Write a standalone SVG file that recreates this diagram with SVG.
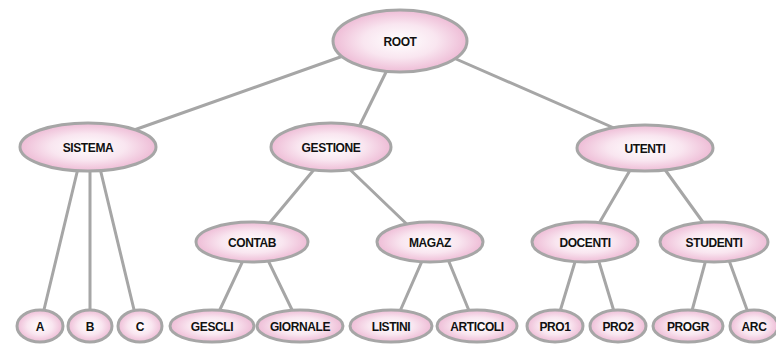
<svg xmlns="http://www.w3.org/2000/svg" width="776" height="344" viewBox="0 0 776 344">
<defs>
<radialGradient id="pink" cx="50%" cy="50%" r="50%">
<stop offset="0" stop-color="#ffffff"/>
<stop offset="0.55" stop-color="#f9e6f0"/>
<stop offset="1" stop-color="#eebcd6"/>
</radialGradient>
<style>
.n ellipse{fill:url(#pink);stroke:#a6a6a6;stroke-width:3}
.n text{font-family:"Liberation Sans",Arial,sans-serif;font-weight:bold;font-size:12px;fill:#111;text-anchor:middle;dominant-baseline:central;letter-spacing:-0.4px}
#edges line{stroke:#a6a6a6;stroke-width:3;stroke-linecap:round}
</style>
</defs>
<rect width="776" height="344" fill="#ffffff"/>
<g id="edges">
<line x1="360" y1="50" x2="120" y2="135"/>
<line x1="392" y1="60" x2="355" y2="135"/>
<line x1="440" y1="52" x2="630" y2="135"/>
<line x1="80" y1="160" x2="42" y2="318"/>
<line x1="90" y1="160" x2="90" y2="318"/>
<line x1="98" y1="160" x2="136" y2="318"/>
<line x1="322" y1="160" x2="262" y2="232"/>
<line x1="340" y1="160" x2="415" y2="232"/>
<line x1="636" y1="160" x2="594" y2="232"/>
<line x1="658" y1="160" x2="710" y2="232"/>
<line x1="247" y1="252" x2="216" y2="318"/>
<line x1="264" y1="252" x2="296" y2="318"/>
<line x1="426" y1="252" x2="397" y2="318"/>
<line x1="445" y1="252" x2="472" y2="318"/>
<line x1="578" y1="252" x2="558" y2="318"/>
<line x1="596" y1="252" x2="616" y2="318"/>
<line x1="708" y1="252" x2="690" y2="318"/>
<line x1="726" y1="252" x2="750" y2="318"/>
</g>
<g id="root" class="n"><ellipse cx="400" cy="41" rx="67" ry="31"/><text x="400" y="42" font-size="13">ROOT</text></g>
<g id="sistema" class="n"><ellipse cx="88" cy="147" rx="68" ry="24"/><text x="88" y="148">SISTEMA</text></g>
<g id="gestione" class="n"><ellipse cx="331" cy="147" rx="60" ry="24"/><text x="331" y="148">GESTIONE</text></g>
<g id="utenti" class="n"><ellipse cx="645" cy="148" rx="68" ry="23"/><text x="645" y="149">UTENTI</text></g>
<g id="contab" class="n"><ellipse cx="252" cy="242" rx="56" ry="20"/><text x="252" y="243">CONTAB</text></g>
<g id="magaz" class="n"><ellipse cx="430" cy="242" rx="53" ry="20"/><text x="430" y="243">MAGAZ</text></g>
<g id="docenti" class="n"><ellipse cx="585" cy="242" rx="53" ry="20"/><text x="585" y="243">DOCENTI</text></g>
<g id="studenti" class="n"><ellipse cx="714" cy="242" rx="54" ry="20"/><text x="714" y="243">STUDENTI</text></g>
<g id="a" class="n"><ellipse cx="40" cy="326" rx="23" ry="16"/><text x="40" y="327">A</text></g>
<g id="b" class="n"><ellipse cx="90" cy="326" rx="22" ry="16"/><text x="90" y="327">B</text></g>
<g id="c" class="n"><ellipse cx="140" cy="326" rx="22" ry="16"/><text x="140" y="327">C</text></g>
<g id="gescli" class="n"><ellipse cx="212" cy="326" rx="42" ry="16"/><text x="212" y="327">GESCLI</text></g>
<g id="giornale" class="n"><ellipse cx="300" cy="326" rx="43" ry="16"/><text x="300" y="327">GIORNALE</text></g>
<g id="listini" class="n"><ellipse cx="391" cy="326" rx="41" ry="16"/><text x="391" y="327">LISTINI</text></g>
<g id="articoli" class="n"><ellipse cx="477" cy="326" rx="40" ry="16"/><text x="477" y="327">ARTICOLI</text></g>
<g id="pro1" class="n"><ellipse cx="555" cy="326" rx="28" ry="16"/><text x="555" y="327">PRO1</text></g>
<g id="pro2" class="n"><ellipse cx="618" cy="326" rx="28" ry="16"/><text x="618" y="327">PRO2</text></g>
<g id="progr" class="n"><ellipse cx="688" cy="326" rx="35" ry="16"/><text x="688" y="327">PROGR</text></g>
<g id="arc" class="n"><ellipse cx="754" cy="326" rx="24" ry="16"/><text x="754" y="327">ARC</text></g>
</svg>
